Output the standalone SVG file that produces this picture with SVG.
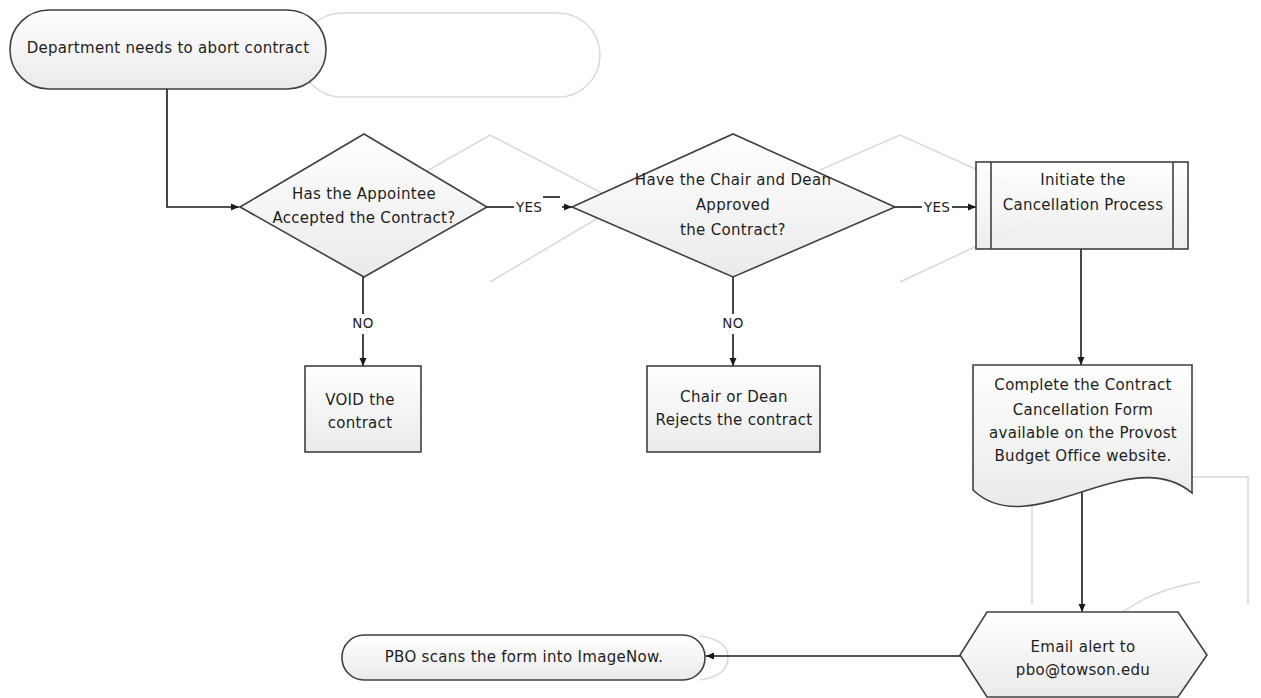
<svg xmlns="http://www.w3.org/2000/svg" width="1261" height="698" viewBox="0 0 1261 698">
<defs>
<linearGradient id="g" x1="0" y1="0" x2="0" y2="1">
<stop offset="0" stop-color="#ffffff"/>
<stop offset="1" stop-color="#eaeaea"/>
</linearGradient>
<marker id="arr" markerWidth="9" markerHeight="8" refX="8" refY="4" orient="auto" markerUnits="userSpaceOnUse">
<path d="M0,0.5 L8,4 L0,7.5 z" fill="#1a1a1a"/>
</marker>
<style>
.shape{fill:url(#g);stroke:#404040;stroke-width:1.6}
.ghost{fill:none;stroke:#d9d9d9;stroke-width:1.5}
.conn{fill:none;stroke:#1a1a1a;stroke-width:1.6}
text{font-family:"DejaVu Sans","Liberation Sans",sans-serif;font-size:15px;letter-spacing:0.3px;fill:#1e1e1e;text-anchor:middle}
.lbl{font-size:13.5px}
</style>
</defs>
<rect width="1261" height="698" fill="#ffffff"/>

<g id="ghosts">
<rect class="ghost" x="300" y="13" width="300" height="84" rx="42"/>
<polyline class="ghost" points="420,175 490,135 625,205"/>
<line class="ghost" x1="490" y1="282" x2="620" y2="205"/>
<polyline class="ghost" points="820,170 900,135 1060,207"/>
<line class="ghost" x1="900" y1="282" x2="1060" y2="207"/>
<polyline class="ghost" points="1192,477 1248,477 1248,604"/>
<line class="ghost" x1="1032" y1="500" x2="1032" y2="604"/>
<path class="ghost" d="M1118,616 Q1150,590 1200,582"/>
<path class="ghost" d="M700,636 Q728,640 728,657 Q728,676 700,680"/>
</g>

<g id="connectors">
<polyline class="conn" points="167,89 167,207 239,207" marker-end="url(#arr)"/>
<line class="conn" x1="487" y1="207" x2="514" y2="207"/>
<text class="lbl" x="529" y="212">YES</text>
<line class="conn" x1="543" y1="197" x2="560" y2="197"/>
<line class="conn" x1="562" y1="207" x2="572" y2="207" marker-end="url(#arr)"/>
<line class="conn" x1="895" y1="207" x2="922" y2="207"/>
<text class="lbl" x="937" y="212">YES</text>
<line class="conn" x1="952" y1="207" x2="976" y2="207" marker-end="url(#arr)"/>
<line class="conn" x1="363" y1="277" x2="363" y2="314"/>
<text class="lbl" x="363" y="328">NO</text>
<line class="conn" x1="363" y1="334" x2="363" y2="366" marker-end="url(#arr)"/>
<line class="conn" x1="733" y1="277" x2="733" y2="314"/>
<text class="lbl" x="733" y="328">NO</text>
<line class="conn" x1="733" y1="334" x2="733" y2="366" marker-end="url(#arr)"/>
<line class="conn" x1="1081" y1="249" x2="1081" y2="365" marker-end="url(#arr)"/>
<line class="conn" x1="1082" y1="492" x2="1082" y2="612" marker-end="url(#arr)"/>
<line class="conn" x1="960" y1="656" x2="706" y2="656" marker-end="url(#arr)"/>
</g>

<g id="start">
<rect class="shape" x="10" y="10" width="316" height="79" rx="39"/>
<text x="168" y="53">Department needs to abort contract</text>
</g>

<g id="decision1">
<polygon class="shape" points="240,207 364,134 487,207 364,277"/>
<text x="364" y="199">Has the Appointee</text>
<text x="364" y="223">Accepted the Contract?</text>
</g>

<g id="decision2">
<polygon class="shape" points="572,207 733,134 895,207 733,277"/>
<text x="733" y="185">Have the Chair and Dean</text>
<text x="733" y="210">Approved</text>
<text x="733" y="235">the Contract?</text>
</g>

<g id="initiate">
<rect class="shape" x="976" y="162" width="212" height="87" style="fill-opacity:0.85"/>
<line class="conn" x1="991" y1="162" x2="991" y2="249" style="stroke:#404040"/>
<line class="conn" x1="1173" y1="162" x2="1173" y2="249" style="stroke:#404040"/>
<text x="1083" y="185">Initiate the</text>
<text x="1083" y="210">Cancellation Process</text>
</g>

<g id="void">
<rect class="shape" x="305" y="366" width="116" height="86"/>
<text x="360" y="405">VOID the</text>
<text x="360" y="428">contract</text>
</g>

<g id="reject">
<rect class="shape" x="647" y="366" width="173" height="86"/>
<text x="734" y="402">Chair or Dean</text>
<text x="734" y="425">Rejects the contract</text>
</g>

<g id="form">
<path class="shape" d="M973,365 H1192 V493 C1130,440 1030,545 973,490 Z"/>
<text x="1083" y="390">Complete the Contract</text>
<text x="1083" y="415">Cancellation Form</text>
<text x="1083" y="438">available on the Provost</text>
<text x="1083" y="461">Budget Office website.</text>
</g>

<g id="email">
<polygon class="shape" points="987,612 1178,612 1207,655 1178,697 987,697 960,655"/>
<text x="1083" y="652">Email alert to</text>
<text x="1083" y="675">pbo@towson.edu</text>
</g>

<g id="pbo">
<rect class="shape" x="342" y="635" width="363" height="45" rx="22"/>
<text x="524" y="662">PBO scans the form into ImageNow.</text>
</g>
</svg>
